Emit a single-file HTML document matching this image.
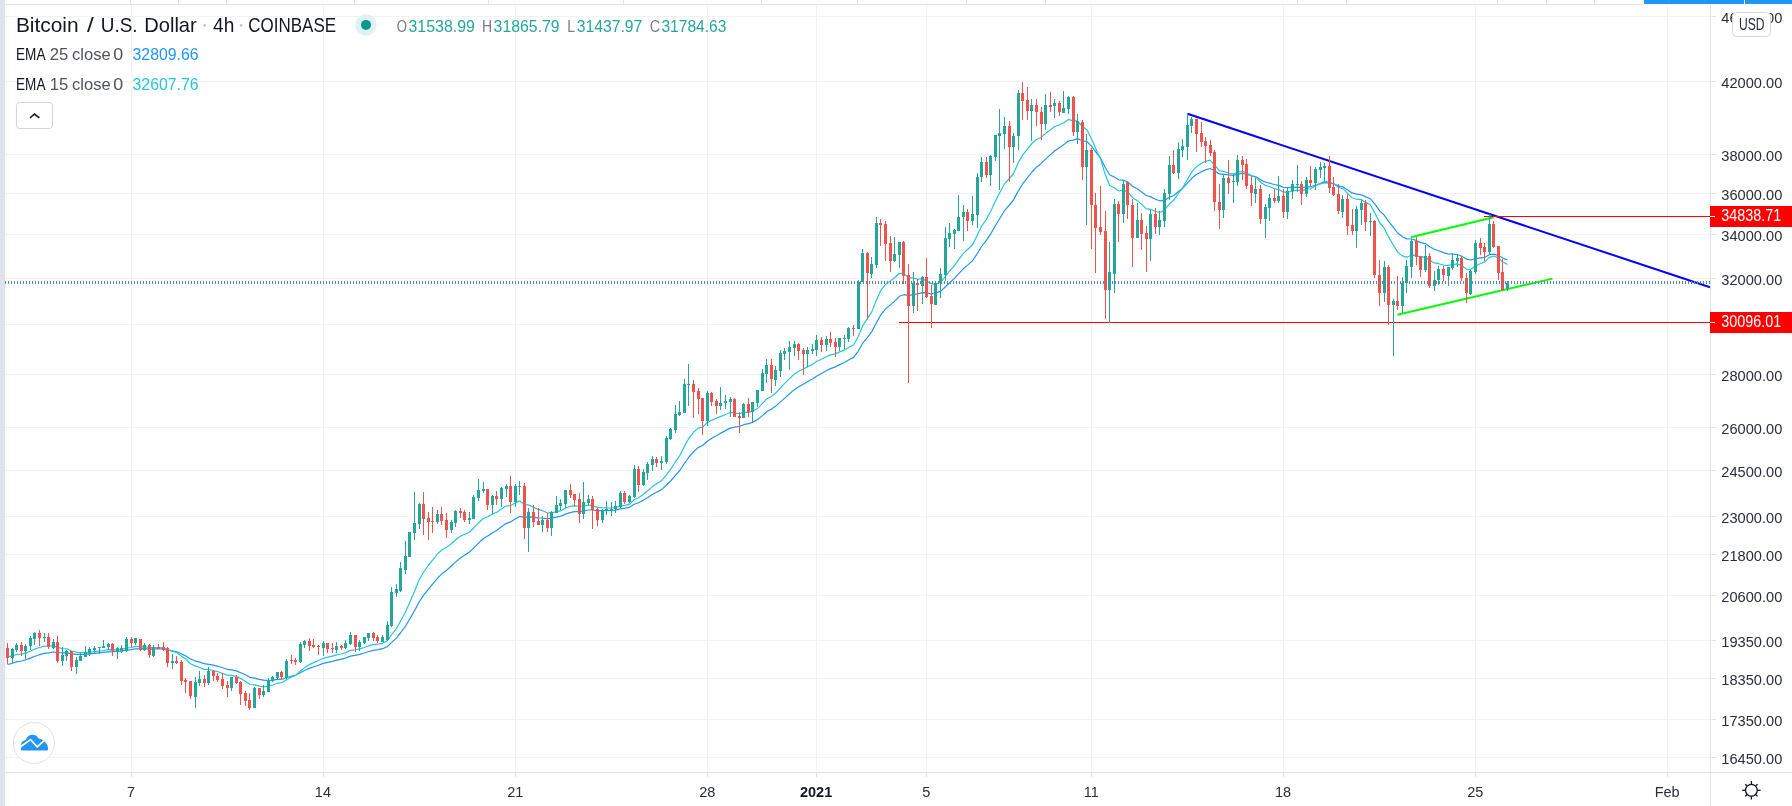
<!DOCTYPE html>
<html><head><meta charset="utf-8">
<style>
html,body{margin:0;padding:0;width:1792px;height:806px;overflow:hidden;background:#fff;}
svg{position:absolute;left:0;top:0;display:block}
</style></head>
<body>
<div style="will-change:transform;position:absolute;left:0;top:0;width:1792px;height:806px">
<svg width="1792" height="806" viewBox="0 0 1792 806">
<rect x="0" y="0" width="1792" height="806" fill="#ffffff"/>
<g shape-rendering="crispEdges" fill="#f1f3f3">
<rect x="5" y="16" width="1705" height="1"/>
<rect x="5" y="81" width="1705" height="1"/>
<rect x="5" y="154" width="1705" height="1"/>
<rect x="5" y="193" width="1705" height="1"/>
<rect x="5" y="234" width="1705" height="1"/>
<rect x="5" y="278" width="1705" height="1"/>
<rect x="5" y="324" width="1705" height="1"/>
<rect x="5" y="374" width="1705" height="1"/>
<rect x="5" y="427" width="1705" height="1"/>
<rect x="5" y="470" width="1705" height="1"/>
<rect x="5" y="516" width="1705" height="1"/>
<rect x="5" y="554" width="1705" height="1"/>
<rect x="5" y="595" width="1705" height="1"/>
<rect x="5" y="640" width="1705" height="1"/>
<rect x="5" y="678" width="1705" height="1"/>
<rect x="5" y="719" width="1705" height="1"/>
<rect x="5" y="757" width="1705" height="1"/>
<rect x="131" y="5" width="1" height="767"/>
<rect x="323" y="5" width="1" height="767"/>
<rect x="515" y="5" width="1" height="767"/>
<rect x="707" y="5" width="1" height="767"/>
<rect x="816" y="5" width="1" height="767"/>
<rect x="926" y="5" width="1" height="767"/>
<rect x="1091" y="5" width="1" height="767"/>
<rect x="1283" y="5" width="1" height="767"/>
<rect x="1475" y="5" width="1" height="767"/>
<rect x="1667" y="5" width="1" height="767"/>
</g>
<line x1="1410.8" y1="237.2" x2="1493.7" y2="217.2" stroke="#00ff00" stroke-width="2" stroke-linecap="butt"/>
<line x1="1397.3" y1="314.7" x2="1552.5" y2="278.6" stroke="#00ff00" stroke-width="2" stroke-linecap="butt"/>
<line x1="1187.5" y1="113.8" x2="1710" y2="287.2" stroke="#0000ff" stroke-width="2" stroke-linecap="butt"/>
<line x1="899" y1="322.5" x2="1710" y2="322.5" stroke="#ff0000" stroke-width="1" shape-rendering="crispEdges"/>
<line x1="1484" y1="216.5" x2="1710" y2="216.5" stroke="#ff0000" stroke-width="1" shape-rendering="crispEdges"/>
<polyline points="7.5,664.5 12.1,663.3 16.7,661.9 21.3,661.0 25.8,659.8 30.4,658.1 35.0,656.2 39.6,654.7 44.1,653.4 48.7,652.8 53.3,652.0 57.9,652.7 62.4,652.9 67.0,652.7 71.6,653.8 76.1,654.3 80.7,654.4 85.3,654.3 89.9,653.9 94.4,653.4 99.0,652.9 103.6,652.4 108.2,651.8 112.7,651.7 117.3,651.4 121.9,651.2 126.4,650.2 131.0,649.7 135.6,648.8 140.2,648.9 144.7,648.6 149.3,649.1 153.9,648.9 158.5,648.9 163.0,648.9 167.6,650.0 172.2,650.8 176.8,651.8 181.3,653.9 185.9,656.0 190.5,659.0 195.0,660.8 199.6,662.1 204.2,663.7 208.8,664.3 213.3,665.2 217.9,666.3 222.5,667.8 227.1,669.3 231.6,669.9 236.2,670.9 240.8,672.7 245.3,674.8 249.9,677.3 254.5,678.1 259.1,679.3 263.6,680.2 268.2,680.3 272.8,680.1 277.4,679.4 281.9,679.2 286.5,677.8 291.1,676.4 295.6,675.3 300.2,672.8 304.8,670.3 309.4,668.4 313.9,666.7 318.5,665.2 323.1,663.4 327.7,662.3 332.2,661.3 336.8,660.1 341.4,659.2 346.0,657.9 350.5,656.1 355.1,655.4 359.7,654.3 364.2,653.0 368.8,651.5 373.4,650.4 378.0,649.7 382.5,648.7 387.1,646.8 391.7,642.4 396.3,638.1 400.8,632.5 405.4,626.3 410.0,618.6 414.5,610.8 419.1,602.0 423.7,595.2 428.3,589.3 432.8,583.9 437.4,578.3 442.0,573.7 446.6,570.2 451.1,566.3 455.7,561.9 460.3,558.0 464.9,554.9 469.4,552.1 474.0,547.7 478.6,543.1 483.1,538.7 487.7,536.1 492.3,532.9 496.9,530.2 501.4,526.8 506.0,523.6 510.6,521.9 515.2,519.0 519.7,516.4 524.3,517.3 528.9,516.9 533.4,517.2 538.0,517.8 542.6,518.0 547.2,518.8 551.7,518.2 556.3,517.2 560.9,516.1 565.5,514.1 570.0,512.6 574.6,511.6 579.2,511.7 583.7,511.0 588.3,510.0 592.9,510.0 597.5,510.8 602.0,510.7 606.6,510.6 611.2,510.4 615.8,510.1 620.3,508.8 624.9,508.2 629.5,507.3 634.1,504.3 638.6,502.8 643.2,500.3 647.8,497.5 652.3,494.5 656.9,492.0 661.5,489.6 666.1,485.5 670.6,481.0 675.2,475.6 679.8,470.5 684.4,463.5 688.9,457.0 693.5,451.8 698.1,447.6 702.6,445.5 707.2,441.3 711.8,438.2 716.4,435.7 720.9,433.1 725.5,430.6 730.1,428.1 734.7,427.2 739.2,426.5 743.8,424.7 748.4,423.7 752.9,422.1 757.5,419.6 762.1,415.9 766.7,411.8 771.2,409.2 775.8,406.1 780.4,401.9 785.0,397.9 789.5,393.8 794.1,389.9 798.7,386.8 803.3,384.2 807.8,381.5 812.4,379.0 817.0,375.9 821.5,373.4 826.1,370.7 830.7,368.6 835.3,366.9 839.8,364.6 844.4,362.5 849.0,359.8 853.6,357.4 858.1,351.3 862.7,343.2 867.3,337.6 871.8,331.6 876.4,322.7 881.0,314.6 885.6,308.9 890.1,305.1 894.7,301.1 899.3,296.3 903.9,294.7 908.4,295.6 913.0,294.6 917.6,293.9 922.2,292.6 926.7,292.9 931.3,293.8 935.9,292.9 940.4,291.4 945.0,287.2 949.6,282.8 954.2,278.6 958.7,273.7 963.3,268.8 967.9,264.9 972.5,260.9 977.0,254.0 981.6,246.5 986.2,240.7 990.7,233.9 995.3,225.8 999.9,218.2 1004.5,210.7 1009.0,205.5 1013.6,199.9 1018.2,191.1 1022.8,183.7 1027.3,177.8 1031.9,172.0 1036.5,167.2 1041.0,163.7 1045.6,159.1 1050.2,154.9 1054.8,150.8 1059.3,147.7 1063.9,144.6 1068.5,140.8 1073.1,140.1 1077.6,138.6 1082.2,140.8 1086.8,141.5 1091.4,146.2 1095.9,152.1 1100.5,157.9 1105.1,167.3 1109.6,174.8 1114.2,177.0 1118.8,179.8 1123.4,180.1 1127.9,182.0 1132.5,186.2 1137.1,188.7 1141.7,192.1 1146.2,195.5 1150.8,196.9 1155.4,199.2 1159.9,200.8 1164.5,200.2 1169.1,197.4 1173.7,195.5 1178.2,191.8 1182.8,188.2 1187.4,183.2 1192.0,178.0 1196.5,174.5 1201.1,171.9 1205.7,169.8 1210.2,168.5 1214.8,171.1 1219.4,173.9 1224.0,174.3 1228.5,174.9 1233.1,175.4 1237.7,174.2 1242.3,173.4 1246.8,174.4 1251.4,175.8 1256.0,176.8 1260.6,179.9 1265.1,182.0 1269.7,183.2 1274.3,184.5 1278.8,185.4 1283.4,187.4 1288.0,187.7 1292.6,187.4 1297.1,187.1 1301.7,187.6 1306.3,187.1 1310.9,186.7 1315.4,185.3 1320.0,183.9 1324.6,182.6 1329.1,182.9 1333.7,183.9 1338.3,185.9 1342.9,186.9 1347.4,189.8 1352.0,192.9 1356.6,194.2 1361.2,194.8 1365.7,196.9 1370.3,198.7 1374.9,204.2 1379.5,210.7 1384.0,214.9 1388.6,221.4 1393.2,227.2 1397.7,233.0 1402.3,236.7 1406.9,238.9 1411.5,239.0 1416.0,240.4 1420.6,242.6 1425.2,243.6 1429.8,246.7 1434.3,249.3 1438.9,250.8 1443.5,252.6 1448.0,253.8 1452.6,254.2 1457.2,254.5 1461.8,256.3 1466.3,259.1 1470.9,260.0 1475.5,258.7 1480.1,257.8 1484.6,257.4 1489.2,254.7 1493.8,254.2 1498.3,255.5 1502.9,258.1 1507.5,260.0" fill="none" stroke="#2196f3" stroke-width="1.2" stroke-linejoin="round"/>
<polyline points="7.5,656.9 12.1,655.9 16.7,654.5 21.3,654.1 25.8,653.1 30.4,651.2 35.0,648.8 39.6,647.5 44.1,646.2 48.7,646.2 53.3,645.7 57.9,647.6 62.4,648.5 67.0,648.8 71.6,651.0 76.1,652.2 80.7,652.6 85.3,652.6 89.9,652.2 94.4,651.7 99.0,651.1 103.6,650.5 108.2,649.7 112.7,649.8 117.3,649.6 121.9,649.4 126.4,648.1 131.0,647.5 135.6,646.3 140.2,646.8 144.7,646.6 149.3,647.6 153.9,647.5 158.5,647.6 163.0,647.9 167.6,649.7 172.2,651.1 176.8,652.6 181.3,656.1 185.9,659.2 190.5,663.7 195.0,665.9 199.6,667.5 204.2,669.4 208.8,669.6 213.3,670.5 217.9,671.7 222.5,673.4 227.1,675.2 231.6,675.4 236.2,676.4 240.8,678.6 245.3,681.3 249.9,684.5 254.5,684.9 259.1,686.2 263.6,686.8 268.2,686.1 272.8,685.0 277.4,683.3 281.9,682.5 286.5,679.7 291.1,677.3 295.6,675.3 300.2,671.3 304.8,667.4 309.4,664.6 313.9,662.4 318.5,660.5 323.1,658.3 327.7,657.1 332.2,656.1 336.8,654.9 341.4,654.0 346.0,652.6 350.5,650.3 355.1,649.9 359.7,648.9 364.2,647.5 368.8,645.7 373.4,644.7 378.0,644.2 382.5,643.3 387.1,640.9 391.7,634.6 396.3,628.7 400.8,620.8 405.4,612.3 410.0,601.8 414.5,591.5 419.1,580.0 423.7,572.0 428.3,565.5 432.8,559.9 437.4,554.0 442.0,549.8 446.6,547.2 451.1,544.0 455.7,539.7 460.3,536.3 464.9,534.2 469.4,532.2 474.0,527.7 478.6,522.8 483.1,518.5 487.7,516.8 492.3,514.1 496.9,512.2 501.4,509.1 506.0,506.1 510.6,505.5 515.2,503.1 519.7,500.9 524.3,504.2 528.9,505.1 533.4,507.2 538.0,509.4 542.6,510.7 547.2,512.8 551.7,512.7 556.3,511.8 560.9,510.7 565.5,508.0 570.0,506.4 574.6,505.6 579.2,506.5 583.7,506.0 588.3,505.1 592.9,505.7 597.5,507.4 602.0,507.7 606.6,507.9 611.2,508.0 615.8,507.7 620.3,505.9 624.9,505.4 629.5,504.2 634.1,499.7 638.6,497.8 643.2,494.5 647.8,490.7 652.3,486.6 656.9,483.6 661.5,480.8 666.1,475.3 670.6,469.4 675.2,462.2 679.8,455.7 684.4,446.4 688.9,438.3 693.5,432.3 698.1,428.1 702.6,427.1 707.2,422.7 711.8,420.1 716.4,418.3 720.9,416.4 725.5,414.5 730.1,412.5 734.7,413.0 739.2,413.6 743.8,412.4 748.4,412.3 752.9,411.1 757.5,408.4 762.1,403.9 766.7,399.0 771.2,396.4 775.8,393.0 780.4,387.9 785.0,383.2 789.5,378.6 794.1,374.2 798.7,371.2 803.3,369.0 807.8,366.6 812.4,364.4 817.0,361.3 821.5,359.2 826.1,356.7 830.7,354.9 835.3,353.9 839.8,351.9 844.4,350.1 849.0,347.3 853.6,345.0 858.1,336.8 862.7,325.8 867.3,318.9 871.8,311.9 876.4,300.1 881.0,290.2 885.6,284.3 890.1,281.3 894.7,277.8 899.3,273.3 903.9,273.6 908.4,277.6 913.0,278.2 917.6,279.1 922.2,278.8 926.7,281.1 931.3,283.9 935.9,283.8 940.4,282.5 945.0,276.8 949.6,271.2 954.2,265.9 958.7,259.6 963.3,253.4 967.9,249.2 972.5,244.7 977.0,235.8 981.6,226.2 986.2,219.6 990.7,211.3 995.3,201.3 999.9,192.5 1004.5,183.8 1009.0,179.0 1013.6,173.5 1018.2,162.9 1022.8,154.8 1027.3,149.2 1031.9,143.5 1036.5,139.5 1041.0,137.5 1045.6,133.4 1050.2,130.0 1054.8,126.5 1059.3,124.7 1063.9,122.7 1068.5,119.4 1073.1,120.9 1077.6,120.9 1082.2,126.5 1086.8,129.4 1091.4,138.4 1095.9,149.0 1100.5,158.8 1105.1,174.0 1109.6,185.5 1114.2,187.8 1118.8,191.0 1123.4,190.1 1127.9,192.0 1132.5,197.6 1137.1,200.4 1141.7,204.4 1146.2,208.6 1150.8,209.3 1155.4,211.5 1159.9,212.5 1164.5,210.1 1169.1,204.3 1173.7,200.3 1178.2,193.7 1182.8,187.6 1187.4,179.5 1192.0,171.6 1196.5,166.7 1201.1,163.5 1205.7,161.3 1210.2,160.2 1214.8,165.3 1219.4,170.7 1224.0,171.6 1228.5,173.0 1233.1,174.0 1237.7,172.2 1242.3,171.3 1246.8,173.1 1251.4,175.5 1256.0,177.2 1260.6,182.2 1265.1,185.3 1269.7,186.8 1274.3,188.6 1278.8,189.5 1283.4,192.2 1288.0,192.1 1292.6,191.1 1297.1,190.2 1301.7,190.6 1306.3,189.3 1310.9,188.5 1315.4,186.0 1320.0,183.6 1324.6,181.4 1329.1,182.2 1333.7,183.8 1338.3,187.2 1342.9,188.6 1347.4,193.2 1352.0,197.8 1356.6,199.2 1361.2,199.7 1365.7,202.4 1370.3,204.7 1374.9,213.1 1379.5,222.5 1384.0,227.9 1388.6,237.1 1393.2,244.8 1397.7,252.1 1402.3,255.9 1406.9,257.2 1411.5,255.1 1416.0,255.3 1420.6,257.1 1425.2,256.9 1429.8,260.4 1434.3,262.9 1438.9,263.7 1443.5,265.1 1448.0,265.4 1452.6,264.7 1457.2,263.9 1461.8,265.7 1466.3,269.1 1470.9,269.3 1475.5,266.0 1480.1,263.7 1484.6,262.1 1489.2,257.3 1493.8,256.0 1498.3,258.0 1502.9,261.9 1507.5,264.5" fill="none" stroke="#26c6da" stroke-width="1.2" stroke-linejoin="round"/>
<g shape-rendering="crispEdges">
<rect x="7" y="643.0" width="1" height="20.8" fill="#ef5350"/>
<rect x="6" y="647.9" width="3" height="9.8" fill="#ef5350"/>
<rect x="12" y="647.9" width="1" height="15.0" fill="#26a69a"/>
<rect x="11" y="649.1" width="3" height="8.7" fill="#26a69a"/>
<rect x="16" y="643.0" width="1" height="8.9" fill="#26a69a"/>
<rect x="15" y="644.9" width="3" height="4.9" fill="#26a69a"/>
<rect x="21" y="642.1" width="1" height="13.5" fill="#ef5350"/>
<rect x="20" y="645.2" width="3" height="5.6" fill="#ef5350"/>
<rect x="25" y="644.0" width="1" height="14.8" fill="#26a69a"/>
<rect x="24" y="646.0" width="3" height="4.8" fill="#26a69a"/>
<rect x="30" y="635.9" width="1" height="14.1" fill="#26a69a"/>
<rect x="29" y="638.0" width="3" height="7.6" fill="#26a69a"/>
<rect x="34" y="632.0" width="1" height="12.8" fill="#26a69a"/>
<rect x="33" y="632.7" width="3" height="6.1" fill="#26a69a"/>
<rect x="39" y="630.0" width="1" height="15.6" fill="#ef5350"/>
<rect x="38" y="633.0" width="3" height="4.9" fill="#ef5350"/>
<rect x="44" y="633.0" width="1" height="8.7" fill="#26a69a"/>
<rect x="43" y="637.1" width="3" height="1.0" fill="#26a69a"/>
<rect x="48" y="633.0" width="1" height="15.8" fill="#ef5350"/>
<rect x="47" y="637.1" width="3" height="9.4" fill="#ef5350"/>
<rect x="53" y="639.1" width="1" height="9.6" fill="#26a69a"/>
<rect x="52" y="642.1" width="3" height="5.4" fill="#26a69a"/>
<rect x="57" y="635.9" width="1" height="26.8" fill="#ef5350"/>
<rect x="56" y="642.1" width="3" height="18.7" fill="#ef5350"/>
<rect x="62" y="647.1" width="1" height="18.8" fill="#26a69a"/>
<rect x="61" y="655.2" width="3" height="5.6" fill="#26a69a"/>
<rect x="66" y="649.5" width="1" height="11.3" fill="#26a69a"/>
<rect x="65" y="650.8" width="3" height="5.2" fill="#26a69a"/>
<rect x="71" y="650.8" width="1" height="20.0" fill="#ef5350"/>
<rect x="70" y="651.2" width="3" height="15.6" fill="#ef5350"/>
<rect x="76" y="657.3" width="1" height="16.5" fill="#26a69a"/>
<rect x="75" y="660.2" width="3" height="6.7" fill="#26a69a"/>
<rect x="80" y="653.2" width="1" height="7.6" fill="#26a69a"/>
<rect x="79" y="656.0" width="3" height="4.8" fill="#26a69a"/>
<rect x="85" y="645.9" width="1" height="11.0" fill="#26a69a"/>
<rect x="84" y="652.3" width="3" height="4.6" fill="#26a69a"/>
<rect x="89" y="647.1" width="1" height="8.7" fill="#26a69a"/>
<rect x="88" y="649.1" width="3" height="4.8" fill="#26a69a"/>
<rect x="94" y="646.0" width="1" height="6.9" fill="#26a69a"/>
<rect x="93" y="648.2" width="3" height="1.3" fill="#26a69a"/>
<rect x="99" y="647.2" width="1" height="6.3" fill="#26a69a"/>
<rect x="98" y="647.2" width="3" height="1.0" fill="#26a69a"/>
<rect x="103" y="640.0" width="1" height="8.2" fill="#26a69a"/>
<rect x="102" y="646.3" width="3" height="1.9" fill="#26a69a"/>
<rect x="108" y="643.0" width="1" height="6.5" fill="#26a69a"/>
<rect x="107" y="644.0" width="3" height="2.9" fill="#26a69a"/>
<rect x="112" y="643.0" width="1" height="12.8" fill="#ef5350"/>
<rect x="111" y="643.9" width="3" height="6.9" fill="#ef5350"/>
<rect x="117" y="646.9" width="1" height="11.9" fill="#26a69a"/>
<rect x="116" y="648.2" width="3" height="3.3" fill="#26a69a"/>
<rect x="121" y="645.1" width="1" height="7.6" fill="#26a69a"/>
<rect x="120" y="647.9" width="3" height="3.2" fill="#26a69a"/>
<rect x="126" y="636.9" width="1" height="15.0" fill="#26a69a"/>
<rect x="125" y="639.0" width="3" height="12.1" fill="#26a69a"/>
<rect x="131" y="636.9" width="1" height="10.5" fill="#ef5350"/>
<rect x="130" y="639.0" width="3" height="4.2" fill="#ef5350"/>
<rect x="135" y="637.9" width="1" height="6.9" fill="#26a69a"/>
<rect x="134" y="638.4" width="3" height="4.2" fill="#26a69a"/>
<rect x="140" y="639.0" width="1" height="11.8" fill="#ef5350"/>
<rect x="139" y="639.2" width="3" height="10.9" fill="#ef5350"/>
<rect x="144" y="643.2" width="1" height="7.6" fill="#26a69a"/>
<rect x="143" y="645.1" width="3" height="5.0" fill="#26a69a"/>
<rect x="149" y="643.7" width="1" height="14.2" fill="#ef5350"/>
<rect x="148" y="644.8" width="3" height="10.0" fill="#ef5350"/>
<rect x="153" y="645.1" width="1" height="11.8" fill="#26a69a"/>
<rect x="152" y="646.9" width="3" height="9.0" fill="#26a69a"/>
<rect x="158" y="643.7" width="1" height="5.3" fill="#ef5350"/>
<rect x="157" y="646.9" width="3" height="1.6" fill="#ef5350"/>
<rect x="163" y="642.1" width="1" height="8.6" fill="#ef5350"/>
<rect x="162" y="646.9" width="3" height="2.6" fill="#ef5350"/>
<rect x="167" y="646.9" width="1" height="20.0" fill="#ef5350"/>
<rect x="166" y="647.9" width="3" height="14.8" fill="#ef5350"/>
<rect x="172" y="654.0" width="1" height="14.8" fill="#26a69a"/>
<rect x="171" y="661.1" width="3" height="1.6" fill="#26a69a"/>
<rect x="176" y="655.8" width="1" height="7.9" fill="#ef5350"/>
<rect x="175" y="661.1" width="3" height="2.1" fill="#ef5350"/>
<rect x="181" y="660.0" width="1" height="24.8" fill="#ef5350"/>
<rect x="180" y="661.6" width="3" height="19.0" fill="#ef5350"/>
<rect x="185" y="678.0" width="1" height="15.0" fill="#ef5350"/>
<rect x="184" y="680.1" width="3" height="1.6" fill="#ef5350"/>
<rect x="190" y="681.1" width="1" height="17.6" fill="#ef5350"/>
<rect x="189" y="681.1" width="3" height="14.8" fill="#ef5350"/>
<rect x="195" y="677.1" width="1" height="30.7" fill="#26a69a"/>
<rect x="194" y="681.9" width="3" height="15.1" fill="#26a69a"/>
<rect x="199" y="670.9" width="1" height="15.0" fill="#26a69a"/>
<rect x="198" y="678.7" width="3" height="4.0" fill="#26a69a"/>
<rect x="204" y="675.0" width="1" height="11.9" fill="#ef5350"/>
<rect x="203" y="679.0" width="3" height="3.7" fill="#ef5350"/>
<rect x="208" y="667.1" width="1" height="17.7" fill="#26a69a"/>
<rect x="207" y="671.1" width="3" height="11.6" fill="#26a69a"/>
<rect x="213" y="670.1" width="1" height="10.5" fill="#ef5350"/>
<rect x="212" y="670.6" width="3" height="5.8" fill="#ef5350"/>
<rect x="217" y="672.7" width="1" height="9.0" fill="#ef5350"/>
<rect x="216" y="675.9" width="3" height="4.2" fill="#ef5350"/>
<rect x="222" y="673.2" width="1" height="15.6" fill="#ef5350"/>
<rect x="221" y="679.0" width="3" height="6.9" fill="#ef5350"/>
<rect x="227" y="681.1" width="1" height="15.5" fill="#ef5350"/>
<rect x="226" y="684.8" width="3" height="3.0" fill="#ef5350"/>
<rect x="231" y="676.9" width="1" height="13.9" fill="#26a69a"/>
<rect x="230" y="677.2" width="3" height="10.5" fill="#26a69a"/>
<rect x="236" y="675.1" width="1" height="8.6" fill="#ef5350"/>
<rect x="235" y="676.9" width="3" height="6.3" fill="#ef5350"/>
<rect x="240" y="681.1" width="1" height="23.7" fill="#ef5350"/>
<rect x="239" y="681.7" width="3" height="12.1" fill="#ef5350"/>
<rect x="245" y="691.1" width="1" height="14.4" fill="#ef5350"/>
<rect x="244" y="693.0" width="3" height="7.6" fill="#ef5350"/>
<rect x="249" y="693.1" width="1" height="16.7" fill="#ef5350"/>
<rect x="248" y="700.1" width="3" height="7.7" fill="#ef5350"/>
<rect x="254" y="687.2" width="1" height="21.2" fill="#26a69a"/>
<rect x="253" y="687.8" width="3" height="20.0" fill="#26a69a"/>
<rect x="259" y="687.8" width="1" height="11.0" fill="#ef5350"/>
<rect x="258" y="688.1" width="3" height="6.7" fill="#ef5350"/>
<rect x="263" y="684.8" width="1" height="12.0" fill="#26a69a"/>
<rect x="262" y="691.1" width="3" height="3.8" fill="#26a69a"/>
<rect x="268" y="678.0" width="1" height="13.7" fill="#26a69a"/>
<rect x="267" y="681.3" width="3" height="10.4" fill="#26a69a"/>
<rect x="272" y="676.2" width="1" height="6.2" fill="#26a69a"/>
<rect x="271" y="677.2" width="3" height="4.1" fill="#26a69a"/>
<rect x="277" y="671.9" width="1" height="7.7" fill="#26a69a"/>
<rect x="276" y="671.9" width="3" height="5.9" fill="#26a69a"/>
<rect x="281" y="671.3" width="1" height="8.2" fill="#ef5350"/>
<rect x="280" y="672.2" width="3" height="4.4" fill="#ef5350"/>
<rect x="286" y="658.9" width="1" height="19.8" fill="#26a69a"/>
<rect x="285" y="660.7" width="3" height="17.1" fill="#26a69a"/>
<rect x="291" y="655.0" width="1" height="8.8" fill="#ef5350"/>
<rect x="290" y="659.8" width="3" height="1.0" fill="#ef5350"/>
<rect x="295" y="657.9" width="1" height="6.8" fill="#ef5350"/>
<rect x="294" y="659.8" width="3" height="2.0" fill="#ef5350"/>
<rect x="300" y="641.8" width="1" height="21.2" fill="#26a69a"/>
<rect x="299" y="643.6" width="3" height="18.3" fill="#26a69a"/>
<rect x="304" y="640.0" width="1" height="7.9" fill="#26a69a"/>
<rect x="303" y="640.6" width="3" height="4.1" fill="#26a69a"/>
<rect x="309" y="637.9" width="1" height="13.0" fill="#ef5350"/>
<rect x="308" y="641.0" width="3" height="4.7" fill="#ef5350"/>
<rect x="313" y="638.9" width="1" height="8.8" fill="#ef5350"/>
<rect x="312" y="645.0" width="3" height="1.9" fill="#ef5350"/>
<rect x="318" y="645.0" width="1" height="10.0" fill="#ef5350"/>
<rect x="317" y="645.7" width="3" height="1.6" fill="#ef5350"/>
<rect x="323" y="641.0" width="1" height="15.0" fill="#26a69a"/>
<rect x="322" y="643.0" width="3" height="4.7" fill="#26a69a"/>
<rect x="327" y="643.0" width="1" height="10.0" fill="#ef5350"/>
<rect x="326" y="643.0" width="3" height="5.9" fill="#ef5350"/>
<rect x="332" y="643.0" width="1" height="10.0" fill="#ef5350"/>
<rect x="331" y="647.9" width="3" height="1.5" fill="#ef5350"/>
<rect x="336" y="642.0" width="1" height="11.0" fill="#26a69a"/>
<rect x="335" y="645.9" width="3" height="4.1" fill="#26a69a"/>
<rect x="341" y="645.1" width="1" height="4.6" fill="#ef5350"/>
<rect x="340" y="646.2" width="3" height="1.5" fill="#ef5350"/>
<rect x="345" y="640.0" width="1" height="8.8" fill="#26a69a"/>
<rect x="344" y="643.0" width="3" height="4.7" fill="#26a69a"/>
<rect x="350" y="631.8" width="1" height="13.0" fill="#26a69a"/>
<rect x="349" y="634.7" width="3" height="9.4" fill="#26a69a"/>
<rect x="355" y="634.7" width="1" height="17.1" fill="#ef5350"/>
<rect x="354" y="635.1" width="3" height="12.0" fill="#ef5350"/>
<rect x="359" y="640.0" width="1" height="10.8" fill="#26a69a"/>
<rect x="358" y="641.8" width="3" height="5.3" fill="#26a69a"/>
<rect x="364" y="637.1" width="1" height="7.1" fill="#26a69a"/>
<rect x="363" y="637.4" width="3" height="5.5" fill="#26a69a"/>
<rect x="368" y="633.0" width="1" height="8.0" fill="#26a69a"/>
<rect x="367" y="633.2" width="3" height="5.1" fill="#26a69a"/>
<rect x="373" y="631.8" width="1" height="9.2" fill="#ef5350"/>
<rect x="372" y="633.2" width="3" height="4.5" fill="#ef5350"/>
<rect x="377" y="635.1" width="1" height="7.9" fill="#ef5350"/>
<rect x="376" y="637.1" width="3" height="3.9" fill="#ef5350"/>
<rect x="382" y="635.2" width="1" height="7.1" fill="#26a69a"/>
<rect x="381" y="637.0" width="3" height="4.5" fill="#26a69a"/>
<rect x="387" y="620.7" width="1" height="20.1" fill="#26a69a"/>
<rect x="386" y="624.5" width="3" height="15.2" fill="#26a69a"/>
<rect x="391" y="586.5" width="1" height="40.8" fill="#26a69a"/>
<rect x="390" y="591.7" width="3" height="34.6" fill="#26a69a"/>
<rect x="396" y="583.8" width="1" height="12.9" fill="#26a69a"/>
<rect x="395" y="588.8" width="3" height="4.0" fill="#26a69a"/>
<rect x="400" y="561.5" width="1" height="30.1" fill="#26a69a"/>
<rect x="399" y="568.2" width="3" height="22.3" fill="#26a69a"/>
<rect x="405" y="541.0" width="1" height="32.8" fill="#26a69a"/>
<rect x="404" y="555.5" width="3" height="14.5" fill="#26a69a"/>
<rect x="409" y="532.1" width="1" height="24.6" fill="#26a69a"/>
<rect x="408" y="532.1" width="3" height="24.6" fill="#26a69a"/>
<rect x="414" y="491.9" width="1" height="47.6" fill="#26a69a"/>
<rect x="413" y="523.2" width="3" height="9.5" fill="#26a69a"/>
<rect x="419" y="503.2" width="1" height="25.3" fill="#26a69a"/>
<rect x="418" y="503.9" width="3" height="19.8" fill="#26a69a"/>
<rect x="423" y="491.9" width="1" height="42.6" fill="#ef5350"/>
<rect x="422" y="504.3" width="3" height="14.2" fill="#ef5350"/>
<rect x="428" y="512.0" width="1" height="27.6" fill="#ef5350"/>
<rect x="427" y="518.0" width="3" height="3.7" fill="#ef5350"/>
<rect x="432" y="507.1" width="1" height="25.6" fill="#ef5350"/>
<rect x="431" y="521.1" width="3" height="1.0" fill="#ef5350"/>
<rect x="437" y="510.1" width="1" height="13.5" fill="#26a69a"/>
<rect x="436" y="514.3" width="3" height="7.4" fill="#26a69a"/>
<rect x="441" y="507.1" width="1" height="17.5" fill="#ef5350"/>
<rect x="440" y="514.3" width="3" height="6.3" fill="#ef5350"/>
<rect x="446" y="513.0" width="1" height="24.7" fill="#ef5350"/>
<rect x="445" y="520.1" width="3" height="9.5" fill="#ef5350"/>
<rect x="451" y="520.3" width="1" height="12.4" fill="#26a69a"/>
<rect x="450" y="521.7" width="3" height="7.9" fill="#26a69a"/>
<rect x="455" y="510.1" width="1" height="16.6" fill="#26a69a"/>
<rect x="454" y="510.6" width="3" height="12.1" fill="#26a69a"/>
<rect x="460" y="508.0" width="1" height="9.7" fill="#ef5350"/>
<rect x="459" y="511.1" width="3" height="1.6" fill="#ef5350"/>
<rect x="464" y="510.1" width="1" height="11.6" fill="#ef5350"/>
<rect x="463" y="512.0" width="3" height="7.6" fill="#ef5350"/>
<rect x="469" y="512.0" width="1" height="11.6" fill="#26a69a"/>
<rect x="468" y="518.3" width="3" height="1.3" fill="#26a69a"/>
<rect x="473" y="495.1" width="1" height="23.6" fill="#26a69a"/>
<rect x="472" y="496.9" width="3" height="21.8" fill="#26a69a"/>
<rect x="478" y="479.0" width="1" height="21.8" fill="#26a69a"/>
<rect x="477" y="490.0" width="3" height="7.9" fill="#26a69a"/>
<rect x="483" y="481.9" width="1" height="10.8" fill="#26a69a"/>
<rect x="482" y="489.0" width="3" height="1.6" fill="#26a69a"/>
<rect x="487" y="489.0" width="1" height="20.9" fill="#ef5350"/>
<rect x="486" y="489.0" width="3" height="15.8" fill="#ef5350"/>
<rect x="492" y="495.1" width="1" height="19.0" fill="#26a69a"/>
<rect x="491" y="495.8" width="3" height="9.0" fill="#26a69a"/>
<rect x="496" y="491.1" width="1" height="13.7" fill="#ef5350"/>
<rect x="495" y="496.4" width="3" height="2.1" fill="#ef5350"/>
<rect x="501" y="486.9" width="1" height="19.8" fill="#26a69a"/>
<rect x="500" y="487.7" width="3" height="10.8" fill="#26a69a"/>
<rect x="506" y="483.9" width="1" height="13.0" fill="#26a69a"/>
<rect x="505" y="485.8" width="3" height="3.0" fill="#26a69a"/>
<rect x="510" y="476.1" width="1" height="36.6" fill="#ef5350"/>
<rect x="509" y="486.0" width="3" height="15.6" fill="#ef5350"/>
<rect x="515" y="483.9" width="1" height="22.8" fill="#26a69a"/>
<rect x="514" y="485.8" width="3" height="15.8" fill="#26a69a"/>
<rect x="519" y="481.1" width="1" height="13.7" fill="#26a69a"/>
<rect x="518" y="485.8" width="3" height="1.0" fill="#26a69a"/>
<rect x="524" y="483.2" width="1" height="55.6" fill="#ef5350"/>
<rect x="523" y="485.8" width="3" height="42.0" fill="#ef5350"/>
<rect x="528" y="508.0" width="1" height="43.7" fill="#26a69a"/>
<rect x="527" y="512.0" width="3" height="15.8" fill="#26a69a"/>
<rect x="533" y="505.0" width="1" height="21.6" fill="#ef5350"/>
<rect x="532" y="512.0" width="3" height="9.7" fill="#ef5350"/>
<rect x="538" y="508.0" width="1" height="17.4" fill="#ef5350"/>
<rect x="537" y="521.1" width="3" height="3.9" fill="#ef5350"/>
<rect x="542" y="516.2" width="1" height="15.5" fill="#26a69a"/>
<rect x="541" y="520.1" width="3" height="4.7" fill="#26a69a"/>
<rect x="547" y="513.0" width="1" height="18.7" fill="#ef5350"/>
<rect x="546" y="520.1" width="3" height="7.7" fill="#ef5350"/>
<rect x="551" y="511.4" width="1" height="24.2" fill="#26a69a"/>
<rect x="550" y="511.9" width="3" height="15.8" fill="#26a69a"/>
<rect x="556" y="495.9" width="1" height="17.3" fill="#26a69a"/>
<rect x="555" y="505.1" width="3" height="7.7" fill="#26a69a"/>
<rect x="560" y="499.1" width="1" height="10.8" fill="#26a69a"/>
<rect x="559" y="503.0" width="3" height="2.6" fill="#26a69a"/>
<rect x="565" y="490.0" width="1" height="17.7" fill="#26a69a"/>
<rect x="564" y="490.0" width="3" height="13.7" fill="#26a69a"/>
<rect x="570" y="484.0" width="1" height="14.4" fill="#ef5350"/>
<rect x="569" y="490.3" width="3" height="4.5" fill="#ef5350"/>
<rect x="574" y="494.0" width="1" height="12.7" fill="#ef5350"/>
<rect x="573" y="494.0" width="3" height="5.8" fill="#ef5350"/>
<rect x="579" y="493.0" width="1" height="29.7" fill="#ef5350"/>
<rect x="578" y="499.1" width="3" height="14.4" fill="#ef5350"/>
<rect x="583" y="482.2" width="1" height="36.6" fill="#26a69a"/>
<rect x="582" y="501.9" width="3" height="11.6" fill="#26a69a"/>
<rect x="588" y="495.1" width="1" height="10.2" fill="#26a69a"/>
<rect x="587" y="499.1" width="3" height="3.9" fill="#26a69a"/>
<rect x="592" y="495.9" width="1" height="32.9" fill="#ef5350"/>
<rect x="591" y="499.1" width="3" height="10.8" fill="#ef5350"/>
<rect x="597" y="508.2" width="1" height="17.6" fill="#ef5350"/>
<rect x="596" y="508.8" width="3" height="10.8" fill="#ef5350"/>
<rect x="602" y="509.3" width="1" height="13.4" fill="#26a69a"/>
<rect x="601" y="509.8" width="3" height="9.7" fill="#26a69a"/>
<rect x="606" y="500.9" width="1" height="14.0" fill="#26a69a"/>
<rect x="605" y="509.3" width="3" height="1.1" fill="#26a69a"/>
<rect x="611" y="501.9" width="1" height="13.9" fill="#26a69a"/>
<rect x="610" y="508.6" width="3" height="1.1" fill="#26a69a"/>
<rect x="615" y="500.9" width="1" height="11.9" fill="#26a69a"/>
<rect x="614" y="506.1" width="3" height="2.4" fill="#26a69a"/>
<rect x="620" y="491.1" width="1" height="16.7" fill="#26a69a"/>
<rect x="619" y="493.2" width="3" height="13.5" fill="#26a69a"/>
<rect x="624" y="491.1" width="1" height="12.7" fill="#ef5350"/>
<rect x="623" y="493.2" width="3" height="8.7" fill="#ef5350"/>
<rect x="629" y="495.1" width="1" height="7.9" fill="#26a69a"/>
<rect x="628" y="496.1" width="3" height="5.8" fill="#26a69a"/>
<rect x="634" y="465.0" width="1" height="32.7" fill="#26a69a"/>
<rect x="633" y="469.0" width="3" height="27.9" fill="#26a69a"/>
<rect x="638" y="466.1" width="1" height="25.8" fill="#ef5350"/>
<rect x="637" y="469.0" width="3" height="15.7" fill="#ef5350"/>
<rect x="643" y="469.0" width="1" height="16.8" fill="#26a69a"/>
<rect x="642" y="471.9" width="3" height="13.4" fill="#26a69a"/>
<rect x="647" y="462.2" width="1" height="17.6" fill="#26a69a"/>
<rect x="646" y="464.0" width="3" height="8.7" fill="#26a69a"/>
<rect x="652" y="456.1" width="1" height="14.8" fill="#26a69a"/>
<rect x="651" y="459.2" width="3" height="5.5" fill="#26a69a"/>
<rect x="656" y="457.1" width="1" height="9.7" fill="#ef5350"/>
<rect x="655" y="459.2" width="3" height="3.7" fill="#ef5350"/>
<rect x="661" y="456.1" width="1" height="13.7" fill="#26a69a"/>
<rect x="660" y="461.3" width="3" height="1.3" fill="#26a69a"/>
<rect x="666" y="436.1" width="1" height="27.6" fill="#26a69a"/>
<rect x="665" y="438.0" width="3" height="23.6" fill="#26a69a"/>
<rect x="670" y="428.2" width="1" height="11.6" fill="#26a69a"/>
<rect x="669" y="428.9" width="3" height="10.2" fill="#26a69a"/>
<rect x="675" y="405.0" width="1" height="28.0" fill="#26a69a"/>
<rect x="674" y="414.2" width="3" height="15.7" fill="#26a69a"/>
<rect x="679" y="400.9" width="1" height="14.7" fill="#26a69a"/>
<rect x="678" y="411.8" width="3" height="2.7" fill="#26a69a"/>
<rect x="684" y="379.1" width="1" height="33.4" fill="#26a69a"/>
<rect x="683" y="384.2" width="3" height="28.4" fill="#26a69a"/>
<rect x="688" y="364.1" width="1" height="41.9" fill="#26a69a"/>
<rect x="687" y="384.2" width="3" height="1.0" fill="#26a69a"/>
<rect x="693" y="380.2" width="1" height="37.8" fill="#ef5350"/>
<rect x="692" y="384.2" width="3" height="7.6" fill="#ef5350"/>
<rect x="698" y="388.0" width="1" height="25.7" fill="#ef5350"/>
<rect x="697" y="391.1" width="3" height="7.8" fill="#ef5350"/>
<rect x="702" y="397.9" width="1" height="36.8" fill="#ef5350"/>
<rect x="701" y="398.2" width="3" height="22.5" fill="#ef5350"/>
<rect x="707" y="391.1" width="1" height="34.4" fill="#26a69a"/>
<rect x="706" y="392.7" width="3" height="28.7" fill="#26a69a"/>
<rect x="711" y="392.1" width="1" height="13.6" fill="#ef5350"/>
<rect x="710" y="392.7" width="3" height="8.9" fill="#ef5350"/>
<rect x="716" y="399.2" width="1" height="14.7" fill="#ef5350"/>
<rect x="715" y="400.7" width="3" height="5.5" fill="#ef5350"/>
<rect x="720" y="387.0" width="1" height="22.8" fill="#26a69a"/>
<rect x="719" y="403.3" width="3" height="2.2" fill="#26a69a"/>
<rect x="725" y="395.2" width="1" height="13.5" fill="#26a69a"/>
<rect x="724" y="400.9" width="3" height="2.5" fill="#26a69a"/>
<rect x="730" y="396.8" width="1" height="19.8" fill="#26a69a"/>
<rect x="729" y="399.2" width="3" height="2.5" fill="#26a69a"/>
<rect x="734" y="398.2" width="1" height="18.8" fill="#ef5350"/>
<rect x="733" y="398.9" width="3" height="17.7" fill="#ef5350"/>
<rect x="739" y="412.1" width="1" height="20.9" fill="#ef5350"/>
<rect x="738" y="415.9" width="3" height="1.6" fill="#ef5350"/>
<rect x="743" y="403.4" width="1" height="14.6" fill="#26a69a"/>
<rect x="742" y="403.7" width="3" height="13.9" fill="#26a69a"/>
<rect x="748" y="397.9" width="1" height="19.1" fill="#ef5350"/>
<rect x="747" y="403.9" width="3" height="8.3" fill="#ef5350"/>
<rect x="752" y="402.0" width="1" height="20.5" fill="#26a69a"/>
<rect x="751" y="402.3" width="3" height="9.6" fill="#26a69a"/>
<rect x="757" y="390.0" width="1" height="16.8" fill="#26a69a"/>
<rect x="756" y="390.3" width="3" height="12.7" fill="#26a69a"/>
<rect x="762" y="369.3" width="1" height="21.8" fill="#26a69a"/>
<rect x="761" y="373.0" width="3" height="17.7" fill="#26a69a"/>
<rect x="766" y="359.0" width="1" height="23.5" fill="#26a69a"/>
<rect x="765" y="365.2" width="3" height="8.4" fill="#26a69a"/>
<rect x="771" y="359.0" width="1" height="33.7" fill="#ef5350"/>
<rect x="770" y="365.2" width="3" height="13.4" fill="#ef5350"/>
<rect x="775" y="365.9" width="1" height="19.7" fill="#26a69a"/>
<rect x="774" y="370.1" width="3" height="9.4" fill="#26a69a"/>
<rect x="780" y="350.0" width="1" height="26.8" fill="#26a69a"/>
<rect x="779" y="353.0" width="3" height="17.9" fill="#26a69a"/>
<rect x="784" y="348.0" width="1" height="11.7" fill="#26a69a"/>
<rect x="783" y="351.0" width="3" height="2.8" fill="#26a69a"/>
<rect x="789" y="341.1" width="1" height="28.6" fill="#26a69a"/>
<rect x="788" y="347.0" width="3" height="4.8" fill="#26a69a"/>
<rect x="794" y="341.1" width="1" height="14.7" fill="#26a69a"/>
<rect x="793" y="344.0" width="3" height="3.8" fill="#26a69a"/>
<rect x="798" y="343.3" width="1" height="16.4" fill="#ef5350"/>
<rect x="797" y="343.8" width="3" height="7.0" fill="#ef5350"/>
<rect x="803" y="348.3" width="1" height="26.3" fill="#ef5350"/>
<rect x="802" y="350.0" width="3" height="3.8" fill="#ef5350"/>
<rect x="807" y="347.0" width="1" height="19.7" fill="#26a69a"/>
<rect x="806" y="350.0" width="3" height="3.8" fill="#26a69a"/>
<rect x="812" y="344.0" width="1" height="9.7" fill="#26a69a"/>
<rect x="811" y="349.0" width="3" height="1.8" fill="#26a69a"/>
<rect x="816" y="334.9" width="1" height="20.9" fill="#26a69a"/>
<rect x="815" y="340.1" width="3" height="9.7" fill="#26a69a"/>
<rect x="821" y="337.1" width="1" height="14.7" fill="#ef5350"/>
<rect x="820" y="340.1" width="3" height="4.8" fill="#ef5350"/>
<rect x="826" y="336.1" width="1" height="14.7" fill="#26a69a"/>
<rect x="825" y="339.1" width="3" height="5.8" fill="#26a69a"/>
<rect x="830" y="332.1" width="1" height="14.7" fill="#ef5350"/>
<rect x="829" y="339.1" width="3" height="3.8" fill="#ef5350"/>
<rect x="835" y="338.1" width="1" height="18.7" fill="#ef5350"/>
<rect x="834" y="342.0" width="3" height="4.8" fill="#ef5350"/>
<rect x="839" y="338.1" width="1" height="12.7" fill="#26a69a"/>
<rect x="838" y="338.1" width="3" height="8.7" fill="#26a69a"/>
<rect x="844" y="334.9" width="1" height="14.1" fill="#26a69a"/>
<rect x="843" y="337.9" width="3" height="1.0" fill="#26a69a"/>
<rect x="848" y="327.1" width="1" height="14.5" fill="#26a69a"/>
<rect x="847" y="327.9" width="3" height="10.7" fill="#26a69a"/>
<rect x="853" y="325.0" width="1" height="10.9" fill="#ef5350"/>
<rect x="852" y="327.9" width="3" height="1.0" fill="#ef5350"/>
<rect x="858" y="280.0" width="1" height="49.0" fill="#26a69a"/>
<rect x="857" y="282.0" width="3" height="47.0" fill="#26a69a"/>
<rect x="862" y="249.1" width="1" height="32.9" fill="#26a69a"/>
<rect x="861" y="253.2" width="3" height="28.8" fill="#26a69a"/>
<rect x="867" y="252.2" width="1" height="68.2" fill="#ef5350"/>
<rect x="866" y="252.8" width="3" height="19.9" fill="#ef5350"/>
<rect x="871" y="257.1" width="1" height="20.5" fill="#26a69a"/>
<rect x="870" y="264.3" width="3" height="9.2" fill="#26a69a"/>
<rect x="876" y="217.0" width="1" height="50.6" fill="#26a69a"/>
<rect x="875" y="223.0" width="3" height="41.6" fill="#26a69a"/>
<rect x="880" y="219.0" width="1" height="26.7" fill="#ef5350"/>
<rect x="879" y="223.0" width="3" height="1.5" fill="#ef5350"/>
<rect x="885" y="221.1" width="1" height="39.5" fill="#ef5350"/>
<rect x="884" y="224.0" width="3" height="19.7" fill="#ef5350"/>
<rect x="890" y="236.0" width="1" height="35.6" fill="#ef5350"/>
<rect x="889" y="243.2" width="3" height="17.4" fill="#ef5350"/>
<rect x="894" y="237.0" width="1" height="24.8" fill="#26a69a"/>
<rect x="893" y="254.4" width="3" height="6.5" fill="#26a69a"/>
<rect x="899" y="242.0" width="1" height="25.7" fill="#26a69a"/>
<rect x="898" y="242.0" width="3" height="12.7" fill="#26a69a"/>
<rect x="903" y="241.0" width="1" height="43.4" fill="#ef5350"/>
<rect x="902" y="242.0" width="3" height="33.8" fill="#ef5350"/>
<rect x="908" y="264.3" width="1" height="118.2" fill="#ef5350"/>
<rect x="907" y="275.1" width="3" height="31.0" fill="#ef5350"/>
<rect x="913" y="272.0" width="1" height="40.6" fill="#26a69a"/>
<rect x="912" y="282.6" width="3" height="23.4" fill="#26a69a"/>
<rect x="917" y="279.2" width="1" height="31.3" fill="#ef5350"/>
<rect x="916" y="283.2" width="3" height="2.2" fill="#ef5350"/>
<rect x="922" y="276.4" width="1" height="27.9" fill="#26a69a"/>
<rect x="921" y="277.0" width="3" height="8.7" fill="#26a69a"/>
<rect x="926" y="258.1" width="1" height="40.0" fill="#ef5350"/>
<rect x="925" y="277.0" width="3" height="19.9" fill="#ef5350"/>
<rect x="931" y="285.0" width="1" height="42.5" fill="#ef5350"/>
<rect x="930" y="296.2" width="3" height="8.1" fill="#ef5350"/>
<rect x="935" y="282.0" width="1" height="22.6" fill="#26a69a"/>
<rect x="934" y="282.6" width="3" height="22.0" fill="#26a69a"/>
<rect x="940" y="268.3" width="1" height="29.2" fill="#26a69a"/>
<rect x="939" y="273.9" width="3" height="8.7" fill="#26a69a"/>
<rect x="945" y="227.1" width="1" height="53.6" fill="#26a69a"/>
<rect x="944" y="237.9" width="3" height="37.2" fill="#26a69a"/>
<rect x="949" y="223.2" width="1" height="23.3" fill="#26a69a"/>
<rect x="948" y="232.9" width="3" height="5.8" fill="#26a69a"/>
<rect x="954" y="229.2" width="1" height="19.5" fill="#26a69a"/>
<rect x="953" y="229.8" width="3" height="4.0" fill="#26a69a"/>
<rect x="958" y="195.1" width="1" height="35.6" fill="#26a69a"/>
<rect x="957" y="217.0" width="3" height="13.7" fill="#26a69a"/>
<rect x="963" y="205.0" width="1" height="35.7" fill="#26a69a"/>
<rect x="962" y="212.0" width="3" height="5.4" fill="#26a69a"/>
<rect x="967" y="209.3" width="1" height="21.5" fill="#ef5350"/>
<rect x="966" y="212.1" width="3" height="8.4" fill="#ef5350"/>
<rect x="972" y="195.8" width="1" height="28.8" fill="#26a69a"/>
<rect x="971" y="213.9" width="3" height="6.6" fill="#26a69a"/>
<rect x="977" y="173.2" width="1" height="54.5" fill="#26a69a"/>
<rect x="976" y="176.5" width="3" height="38.1" fill="#26a69a"/>
<rect x="981" y="157.1" width="1" height="25.3" fill="#26a69a"/>
<rect x="980" y="161.9" width="3" height="14.8" fill="#26a69a"/>
<rect x="986" y="157.1" width="1" height="20.5" fill="#ef5350"/>
<rect x="985" y="161.9" width="3" height="12.9" fill="#ef5350"/>
<rect x="990" y="154.5" width="1" height="31.9" fill="#26a69a"/>
<rect x="989" y="156.1" width="3" height="18.7" fill="#26a69a"/>
<rect x="995" y="134.8" width="1" height="26.6" fill="#26a69a"/>
<rect x="994" y="135.2" width="3" height="21.9" fill="#26a69a"/>
<rect x="999" y="109.0" width="1" height="80.6" fill="#26a69a"/>
<rect x="998" y="133.2" width="3" height="2.4" fill="#26a69a"/>
<rect x="1004" y="117.1" width="1" height="31.5" fill="#26a69a"/>
<rect x="1003" y="126.0" width="3" height="8.1" fill="#26a69a"/>
<rect x="1009" y="121.1" width="1" height="60.5" fill="#ef5350"/>
<rect x="1008" y="126.0" width="3" height="20.5" fill="#ef5350"/>
<rect x="1013" y="133.2" width="1" height="29.4" fill="#26a69a"/>
<rect x="1012" y="136.0" width="3" height="10.5" fill="#26a69a"/>
<rect x="1018" y="89.7" width="1" height="60.0" fill="#26a69a"/>
<rect x="1017" y="92.9" width="3" height="43.5" fill="#26a69a"/>
<rect x="1022" y="81.9" width="1" height="37.6" fill="#ef5350"/>
<rect x="1021" y="93.2" width="3" height="7.4" fill="#ef5350"/>
<rect x="1027" y="86.9" width="1" height="32.6" fill="#ef5350"/>
<rect x="1026" y="100.2" width="3" height="10.5" fill="#ef5350"/>
<rect x="1031" y="99.0" width="1" height="41.5" fill="#26a69a"/>
<rect x="1030" y="105.0" width="3" height="5.6" fill="#26a69a"/>
<rect x="1036" y="99.0" width="1" height="26.5" fill="#ef5350"/>
<rect x="1035" y="105.0" width="3" height="7.3" fill="#ef5350"/>
<rect x="1041" y="107.1" width="1" height="32.6" fill="#ef5350"/>
<rect x="1040" y="111.9" width="3" height="11.6" fill="#ef5350"/>
<rect x="1045" y="94.2" width="1" height="35.5" fill="#26a69a"/>
<rect x="1044" y="105.0" width="3" height="18.5" fill="#26a69a"/>
<rect x="1050" y="92.1" width="1" height="19.7" fill="#ef5350"/>
<rect x="1049" y="105.0" width="3" height="1.6" fill="#ef5350"/>
<rect x="1054" y="99.0" width="1" height="18.5" fill="#26a69a"/>
<rect x="1053" y="103.1" width="3" height="2.7" fill="#26a69a"/>
<rect x="1059" y="101.0" width="1" height="14.5" fill="#ef5350"/>
<rect x="1058" y="103.1" width="3" height="9.2" fill="#ef5350"/>
<rect x="1063" y="91.0" width="1" height="22.1" fill="#26a69a"/>
<rect x="1062" y="108.2" width="3" height="4.8" fill="#26a69a"/>
<rect x="1068" y="96.1" width="1" height="17.4" fill="#26a69a"/>
<rect x="1067" y="96.9" width="3" height="11.8" fill="#26a69a"/>
<rect x="1073" y="96.1" width="1" height="39.5" fill="#ef5350"/>
<rect x="1072" y="96.9" width="3" height="34.7" fill="#ef5350"/>
<rect x="1077" y="114.2" width="1" height="29.5" fill="#26a69a"/>
<rect x="1076" y="121.2" width="3" height="10.4" fill="#26a69a"/>
<rect x="1082" y="120.0" width="1" height="59.7" fill="#ef5350"/>
<rect x="1081" y="122.3" width="3" height="44.5" fill="#ef5350"/>
<rect x="1086" y="134.0" width="1" height="90.6" fill="#26a69a"/>
<rect x="1085" y="150.2" width="3" height="16.6" fill="#26a69a"/>
<rect x="1091" y="148.2" width="1" height="100.7" fill="#ef5350"/>
<rect x="1090" y="150.0" width="3" height="54.6" fill="#ef5350"/>
<rect x="1095" y="193.0" width="1" height="79.7" fill="#ef5350"/>
<rect x="1094" y="205.0" width="3" height="22.8" fill="#ef5350"/>
<rect x="1100" y="186.0" width="1" height="48.7" fill="#ef5350"/>
<rect x="1099" y="227.2" width="3" height="4.6" fill="#ef5350"/>
<rect x="1105" y="211.0" width="1" height="107.6" fill="#ef5350"/>
<rect x="1104" y="231.0" width="3" height="58.9" fill="#ef5350"/>
<rect x="1109" y="242.0" width="1" height="80.5" fill="#26a69a"/>
<rect x="1108" y="271.8" width="3" height="18.1" fill="#26a69a"/>
<rect x="1114" y="198.9" width="1" height="93.8" fill="#26a69a"/>
<rect x="1113" y="204.2" width="3" height="69.4" fill="#26a69a"/>
<rect x="1118" y="201.0" width="1" height="40.8" fill="#ef5350"/>
<rect x="1117" y="204.2" width="3" height="9.4" fill="#ef5350"/>
<rect x="1123" y="180.7" width="1" height="41.8" fill="#26a69a"/>
<rect x="1122" y="184.2" width="3" height="29.5" fill="#26a69a"/>
<rect x="1127" y="181.8" width="1" height="36.9" fill="#ef5350"/>
<rect x="1126" y="182.4" width="3" height="23.0" fill="#ef5350"/>
<rect x="1132" y="198.9" width="1" height="67.9" fill="#ef5350"/>
<rect x="1131" y="205.0" width="3" height="32.7" fill="#ef5350"/>
<rect x="1137" y="203.0" width="1" height="35.2" fill="#26a69a"/>
<rect x="1136" y="220.1" width="3" height="17.9" fill="#26a69a"/>
<rect x="1141" y="213.0" width="1" height="36.8" fill="#ef5350"/>
<rect x="1140" y="220.1" width="3" height="13.4" fill="#ef5350"/>
<rect x="1146" y="226.0" width="1" height="45.5" fill="#ef5350"/>
<rect x="1145" y="233.3" width="3" height="5.2" fill="#ef5350"/>
<rect x="1150" y="209.5" width="1" height="51.4" fill="#26a69a"/>
<rect x="1149" y="214.0" width="3" height="24.5" fill="#26a69a"/>
<rect x="1155" y="208.1" width="1" height="25.4" fill="#ef5350"/>
<rect x="1154" y="214.0" width="3" height="13.0" fill="#ef5350"/>
<rect x="1159" y="211.3" width="1" height="23.4" fill="#26a69a"/>
<rect x="1158" y="220.1" width="3" height="6.8" fill="#26a69a"/>
<rect x="1164" y="188.9" width="1" height="37.7" fill="#26a69a"/>
<rect x="1163" y="193.0" width="3" height="27.7" fill="#26a69a"/>
<rect x="1169" y="155.9" width="1" height="43.6" fill="#26a69a"/>
<rect x="1168" y="165.0" width="3" height="28.6" fill="#26a69a"/>
<rect x="1173" y="149.8" width="1" height="24.2" fill="#ef5350"/>
<rect x="1172" y="165.1" width="3" height="8.0" fill="#ef5350"/>
<rect x="1178" y="141.8" width="1" height="36.9" fill="#26a69a"/>
<rect x="1177" y="149.2" width="3" height="23.6" fill="#26a69a"/>
<rect x="1182" y="138.9" width="1" height="17.7" fill="#26a69a"/>
<rect x="1181" y="146.0" width="3" height="3.8" fill="#26a69a"/>
<rect x="1187" y="113.0" width="1" height="46.8" fill="#26a69a"/>
<rect x="1186" y="125.0" width="3" height="21.8" fill="#26a69a"/>
<rect x="1191" y="116.8" width="1" height="16.3" fill="#26a69a"/>
<rect x="1190" y="118.6" width="3" height="7.4" fill="#26a69a"/>
<rect x="1196" y="118.6" width="1" height="33.3" fill="#ef5350"/>
<rect x="1195" y="118.6" width="3" height="15.0" fill="#ef5350"/>
<rect x="1201" y="122.1" width="1" height="24.7" fill="#ef5350"/>
<rect x="1200" y="133.0" width="3" height="8.7" fill="#ef5350"/>
<rect x="1205" y="137.1" width="1" height="25.7" fill="#ef5350"/>
<rect x="1204" y="140.9" width="3" height="4.7" fill="#ef5350"/>
<rect x="1210" y="140.0" width="1" height="15.9" fill="#ef5350"/>
<rect x="1209" y="145.1" width="3" height="7.7" fill="#ef5350"/>
<rect x="1214" y="150.0" width="1" height="60.7" fill="#ef5350"/>
<rect x="1213" y="151.9" width="3" height="50.5" fill="#ef5350"/>
<rect x="1219" y="184.2" width="1" height="44.5" fill="#ef5350"/>
<rect x="1218" y="201.9" width="3" height="7.7" fill="#ef5350"/>
<rect x="1223" y="174.7" width="1" height="43.0" fill="#26a69a"/>
<rect x="1222" y="178.0" width="3" height="31.5" fill="#26a69a"/>
<rect x="1228" y="160.0" width="1" height="33.8" fill="#ef5350"/>
<rect x="1227" y="178.0" width="3" height="4.7" fill="#ef5350"/>
<rect x="1233" y="174.2" width="1" height="28.6" fill="#26a69a"/>
<rect x="1232" y="180.9" width="3" height="1.5" fill="#26a69a"/>
<rect x="1237" y="154.9" width="1" height="30.6" fill="#26a69a"/>
<rect x="1236" y="160.0" width="3" height="21.6" fill="#26a69a"/>
<rect x="1242" y="155.9" width="1" height="23.8" fill="#ef5350"/>
<rect x="1241" y="160.0" width="3" height="4.7" fill="#ef5350"/>
<rect x="1246" y="159.1" width="1" height="29.8" fill="#ef5350"/>
<rect x="1245" y="164.1" width="3" height="21.4" fill="#ef5350"/>
<rect x="1251" y="175.9" width="1" height="29.7" fill="#ef5350"/>
<rect x="1250" y="184.8" width="3" height="7.9" fill="#ef5350"/>
<rect x="1255" y="177.7" width="1" height="25.1" fill="#26a69a"/>
<rect x="1254" y="189.1" width="3" height="4.7" fill="#26a69a"/>
<rect x="1260" y="185.1" width="1" height="38.5" fill="#ef5350"/>
<rect x="1259" y="189.1" width="3" height="29.5" fill="#ef5350"/>
<rect x="1265" y="204.2" width="1" height="33.6" fill="#26a69a"/>
<rect x="1264" y="207.2" width="3" height="11.4" fill="#26a69a"/>
<rect x="1269" y="194.2" width="1" height="26.5" fill="#26a69a"/>
<rect x="1268" y="197.7" width="3" height="10.0" fill="#26a69a"/>
<rect x="1274" y="188.9" width="1" height="13.9" fill="#ef5350"/>
<rect x="1273" y="197.7" width="3" height="3.2" fill="#ef5350"/>
<rect x="1278" y="175.9" width="1" height="26.9" fill="#26a69a"/>
<rect x="1277" y="196.2" width="3" height="4.7" fill="#26a69a"/>
<rect x="1283" y="188.9" width="1" height="29.2" fill="#ef5350"/>
<rect x="1282" y="196.0" width="3" height="15.6" fill="#ef5350"/>
<rect x="1287" y="187.9" width="1" height="30.6" fill="#26a69a"/>
<rect x="1286" y="191.2" width="3" height="20.3" fill="#26a69a"/>
<rect x="1292" y="180.0" width="1" height="18.9" fill="#26a69a"/>
<rect x="1291" y="184.2" width="3" height="7.1" fill="#26a69a"/>
<rect x="1297" y="165.1" width="1" height="26.7" fill="#26a69a"/>
<rect x="1296" y="183.9" width="3" height="1.0" fill="#26a69a"/>
<rect x="1301" y="181.2" width="1" height="23.6" fill="#ef5350"/>
<rect x="1300" y="184.2" width="3" height="9.4" fill="#ef5350"/>
<rect x="1306" y="177.1" width="1" height="19.4" fill="#26a69a"/>
<rect x="1305" y="180.0" width="3" height="13.6" fill="#26a69a"/>
<rect x="1310" y="165.9" width="1" height="20.0" fill="#ef5350"/>
<rect x="1309" y="180.0" width="3" height="2.7" fill="#ef5350"/>
<rect x="1315" y="167.1" width="1" height="22.7" fill="#26a69a"/>
<rect x="1314" y="169.1" width="3" height="13.7" fill="#26a69a"/>
<rect x="1320" y="162.0" width="1" height="16.0" fill="#26a69a"/>
<rect x="1319" y="167.1" width="3" height="2.4" fill="#26a69a"/>
<rect x="1324" y="163.2" width="1" height="18.6" fill="#26a69a"/>
<rect x="1323" y="166.3" width="3" height="1.4" fill="#26a69a"/>
<rect x="1329" y="156.1" width="1" height="36.5" fill="#ef5350"/>
<rect x="1328" y="166.3" width="3" height="21.4" fill="#ef5350"/>
<rect x="1333" y="177.1" width="1" height="18.6" fill="#ef5350"/>
<rect x="1332" y="187.1" width="3" height="7.7" fill="#ef5350"/>
<rect x="1338" y="184.2" width="1" height="29.5" fill="#ef5350"/>
<rect x="1337" y="194.2" width="3" height="17.1" fill="#ef5350"/>
<rect x="1342" y="195.0" width="1" height="22.7" fill="#26a69a"/>
<rect x="1341" y="199.1" width="3" height="12.7" fill="#26a69a"/>
<rect x="1347" y="193.8" width="1" height="40.9" fill="#ef5350"/>
<rect x="1346" y="199.1" width="3" height="26.5" fill="#ef5350"/>
<rect x="1352" y="209.2" width="1" height="25.6" fill="#ef5350"/>
<rect x="1351" y="225.1" width="3" height="5.9" fill="#ef5350"/>
<rect x="1356" y="206.2" width="1" height="41.5" fill="#26a69a"/>
<rect x="1355" y="209.2" width="3" height="21.8" fill="#26a69a"/>
<rect x="1361" y="199.1" width="1" height="25.7" fill="#26a69a"/>
<rect x="1360" y="202.9" width="3" height="6.8" fill="#26a69a"/>
<rect x="1365" y="199.7" width="1" height="31.0" fill="#ef5350"/>
<rect x="1364" y="202.9" width="3" height="18.9" fill="#ef5350"/>
<rect x="1370" y="213.0" width="1" height="22.9" fill="#26a69a"/>
<rect x="1369" y="220.9" width="3" height="1.0" fill="#26a69a"/>
<rect x="1374" y="219.8" width="1" height="58.6" fill="#ef5350"/>
<rect x="1373" y="220.9" width="3" height="53.6" fill="#ef5350"/>
<rect x="1379" y="260.0" width="1" height="45.7" fill="#ef5350"/>
<rect x="1378" y="274.6" width="3" height="18.1" fill="#ef5350"/>
<rect x="1384" y="261.0" width="1" height="40.5" fill="#26a69a"/>
<rect x="1383" y="266.9" width="3" height="25.8" fill="#26a69a"/>
<rect x="1388" y="265.1" width="1" height="59.4" fill="#ef5350"/>
<rect x="1387" y="266.9" width="3" height="37.6" fill="#ef5350"/>
<rect x="1393" y="299.2" width="1" height="56.6" fill="#26a69a"/>
<rect x="1392" y="301.3" width="3" height="3.5" fill="#26a69a"/>
<rect x="1397" y="275.9" width="1" height="34.5" fill="#ef5350"/>
<rect x="1396" y="301.3" width="3" height="4.4" fill="#ef5350"/>
<rect x="1402" y="277.4" width="1" height="35.9" fill="#26a69a"/>
<rect x="1401" y="282.9" width="3" height="22.7" fill="#26a69a"/>
<rect x="1406" y="260.0" width="1" height="32.7" fill="#26a69a"/>
<rect x="1405" y="266.1" width="3" height="17.2" fill="#26a69a"/>
<rect x="1411" y="239.4" width="1" height="38.8" fill="#26a69a"/>
<rect x="1410" y="240.6" width="3" height="25.9" fill="#26a69a"/>
<rect x="1416" y="236.6" width="1" height="28.3" fill="#ef5350"/>
<rect x="1415" y="240.6" width="3" height="16.0" fill="#ef5350"/>
<rect x="1420" y="255.9" width="1" height="20.6" fill="#ef5350"/>
<rect x="1419" y="255.9" width="3" height="13.7" fill="#ef5350"/>
<rect x="1425" y="244.5" width="1" height="27.1" fill="#26a69a"/>
<rect x="1424" y="255.9" width="3" height="13.7" fill="#26a69a"/>
<rect x="1429" y="253.1" width="1" height="34.5" fill="#ef5350"/>
<rect x="1428" y="255.9" width="3" height="29.7" fill="#ef5350"/>
<rect x="1434" y="271.0" width="1" height="19.7" fill="#26a69a"/>
<rect x="1433" y="280.1" width="3" height="5.5" fill="#26a69a"/>
<rect x="1438" y="266.2" width="1" height="19.2" fill="#26a69a"/>
<rect x="1437" y="269.3" width="3" height="10.8" fill="#26a69a"/>
<rect x="1443" y="266.2" width="1" height="15.1" fill="#ef5350"/>
<rect x="1442" y="269.3" width="3" height="6.1" fill="#ef5350"/>
<rect x="1448" y="266.9" width="1" height="18.7" fill="#26a69a"/>
<rect x="1447" y="267.3" width="3" height="8.3" fill="#26a69a"/>
<rect x="1452" y="253.0" width="1" height="16.5" fill="#26a69a"/>
<rect x="1451" y="260.1" width="3" height="7.7" fill="#26a69a"/>
<rect x="1457" y="254.8" width="1" height="11.8" fill="#26a69a"/>
<rect x="1456" y="257.7" width="3" height="2.9" fill="#26a69a"/>
<rect x="1461" y="256.3" width="1" height="24.7" fill="#ef5350"/>
<rect x="1460" y="257.7" width="3" height="20.6" fill="#ef5350"/>
<rect x="1466" y="273.1" width="1" height="29.7" fill="#ef5350"/>
<rect x="1465" y="278.0" width="3" height="15.4" fill="#ef5350"/>
<rect x="1470" y="269.5" width="1" height="25.3" fill="#26a69a"/>
<rect x="1469" y="270.9" width="3" height="23.3" fill="#26a69a"/>
<rect x="1475" y="240.1" width="1" height="33.6" fill="#26a69a"/>
<rect x="1474" y="243.0" width="3" height="28.9" fill="#26a69a"/>
<rect x="1480" y="237.9" width="1" height="16.9" fill="#ef5350"/>
<rect x="1479" y="243.0" width="3" height="4.7" fill="#ef5350"/>
<rect x="1484" y="243.0" width="1" height="17.7" fill="#ef5350"/>
<rect x="1483" y="247.1" width="3" height="4.5" fill="#ef5350"/>
<rect x="1489" y="214.1" width="1" height="40.3" fill="#26a69a"/>
<rect x="1488" y="224.2" width="3" height="27.5" fill="#26a69a"/>
<rect x="1493" y="221.0" width="1" height="26.7" fill="#ef5350"/>
<rect x="1492" y="224.2" width="3" height="23.0" fill="#ef5350"/>
<rect x="1498" y="246.0" width="1" height="33.9" fill="#ef5350"/>
<rect x="1497" y="246.0" width="3" height="26.5" fill="#ef5350"/>
<rect x="1502" y="258.9" width="1" height="31.6" fill="#ef5350"/>
<rect x="1501" y="272.1" width="3" height="17.4" fill="#ef5350"/>
<rect x="1507" y="281.0" width="1" height="9.7" fill="#26a69a"/>
<rect x="1506" y="282.9" width="3" height="5.6" fill="#26a69a"/>
</g>
<g shape-rendering="crispEdges">
<line x1="5" y1="281.5" x2="1710" y2="281.5" stroke="#ef5350" stroke-width="1" stroke-dasharray="1 2"/>
<line x1="5" y1="282.5" x2="1710" y2="282.5" stroke="#26a69a" stroke-width="1" stroke-dasharray="1 2"/>
<line x1="5" y1="283.5" x2="1710" y2="283.5" stroke="#2196f3" stroke-width="1" stroke-dasharray="1 2"/>
</g>
<rect x="1710" y="5" width="82" height="801" fill="#ffffff"/>
<rect x="5" y="772" width="1787" height="34" fill="#ffffff"/>
<g shape-rendering="crispEdges" fill="#e0e1e3">
<rect x="1710" y="5" width="1" height="801"/>
<rect x="5" y="772" width="1787" height="1"/>
<rect x="1710" y="16" width="6" height="1"/>
<rect x="1710" y="81" width="6" height="1"/>
<rect x="1710" y="154" width="6" height="1"/>
<rect x="1710" y="193" width="6" height="1"/>
<rect x="1710" y="234" width="6" height="1"/>
<rect x="1710" y="278" width="6" height="1"/>
<rect x="1710" y="324" width="6" height="1"/>
<rect x="1710" y="374" width="6" height="1"/>
<rect x="1710" y="427" width="6" height="1"/>
<rect x="1710" y="470" width="6" height="1"/>
<rect x="1710" y="516" width="6" height="1"/>
<rect x="1710" y="554" width="6" height="1"/>
<rect x="1710" y="595" width="6" height="1"/>
<rect x="1710" y="640" width="6" height="1"/>
<rect x="1710" y="678" width="6" height="1"/>
<rect x="1710" y="719" width="6" height="1"/>
<rect x="1710" y="757" width="6" height="1"/>
<rect x="131" y="772" width="1" height="5"/>
<rect x="323" y="772" width="1" height="5"/>
<rect x="515" y="772" width="1" height="5"/>
<rect x="707" y="772" width="1" height="5"/>
<rect x="816" y="772" width="1" height="5"/>
<rect x="926" y="772" width="1" height="5"/>
<rect x="1091" y="772" width="1" height="5"/>
<rect x="1283" y="772" width="1" height="5"/>
<rect x="1475" y="772" width="1" height="5"/>
<rect x="1667" y="772" width="1" height="5"/>
</g>
<text x="1721.3" y="23.0" font-family="Liberation Sans, sans-serif" font-size="15.4" fill="#2a2e39" textLength="61" lengthAdjust="spacingAndGlyphs">46000.00</text>
<text x="1721.3" y="88.0" font-family="Liberation Sans, sans-serif" font-size="15.4" fill="#2a2e39" textLength="61" lengthAdjust="spacingAndGlyphs">42000.00</text>
<text x="1721.3" y="161.0" font-family="Liberation Sans, sans-serif" font-size="15.4" fill="#2a2e39" textLength="61" lengthAdjust="spacingAndGlyphs">38000.00</text>
<text x="1721.3" y="200.0" font-family="Liberation Sans, sans-serif" font-size="15.4" fill="#2a2e39" textLength="61" lengthAdjust="spacingAndGlyphs">36000.00</text>
<text x="1721.3" y="241.0" font-family="Liberation Sans, sans-serif" font-size="15.4" fill="#2a2e39" textLength="61" lengthAdjust="spacingAndGlyphs">34000.00</text>
<text x="1721.3" y="285.0" font-family="Liberation Sans, sans-serif" font-size="15.4" fill="#2a2e39" textLength="61" lengthAdjust="spacingAndGlyphs">32000.00</text>
<text x="1721.3" y="331.0" font-family="Liberation Sans, sans-serif" font-size="15.4" fill="#2a2e39" textLength="61" lengthAdjust="spacingAndGlyphs">30000.00</text>
<text x="1721.3" y="381.0" font-family="Liberation Sans, sans-serif" font-size="15.4" fill="#2a2e39" textLength="61" lengthAdjust="spacingAndGlyphs">28000.00</text>
<text x="1721.3" y="434.0" font-family="Liberation Sans, sans-serif" font-size="15.4" fill="#2a2e39" textLength="61" lengthAdjust="spacingAndGlyphs">26000.00</text>
<text x="1721.3" y="477.0" font-family="Liberation Sans, sans-serif" font-size="15.4" fill="#2a2e39" textLength="61" lengthAdjust="spacingAndGlyphs">24500.00</text>
<text x="1721.3" y="523.0" font-family="Liberation Sans, sans-serif" font-size="15.4" fill="#2a2e39" textLength="61" lengthAdjust="spacingAndGlyphs">23000.00</text>
<text x="1721.3" y="561.0" font-family="Liberation Sans, sans-serif" font-size="15.4" fill="#2a2e39" textLength="61" lengthAdjust="spacingAndGlyphs">21800.00</text>
<text x="1721.3" y="602.0" font-family="Liberation Sans, sans-serif" font-size="15.4" fill="#2a2e39" textLength="61" lengthAdjust="spacingAndGlyphs">20600.00</text>
<text x="1721.3" y="647.0" font-family="Liberation Sans, sans-serif" font-size="15.4" fill="#2a2e39" textLength="61" lengthAdjust="spacingAndGlyphs">19350.00</text>
<text x="1721.3" y="685.0" font-family="Liberation Sans, sans-serif" font-size="15.4" fill="#2a2e39" textLength="61" lengthAdjust="spacingAndGlyphs">18350.00</text>
<text x="1721.3" y="726.0" font-family="Liberation Sans, sans-serif" font-size="15.4" fill="#2a2e39" textLength="61" lengthAdjust="spacingAndGlyphs">17350.00</text>
<text x="1721.3" y="764.0" font-family="Liberation Sans, sans-serif" font-size="15.4" fill="#2a2e39" textLength="61" lengthAdjust="spacingAndGlyphs">16450.00</text>
<rect x="1710" y="206" width="82" height="21" fill="#ff0000" shape-rendering="crispEdges"/>
<rect x="1710" y="216" width="5" height="1" fill="#ffffff" shape-rendering="crispEdges"/>
<text x="1721.3" y="220.8" font-family="Liberation Sans, sans-serif" font-size="15.8" fill="#ffffff" textLength="60" lengthAdjust="spacingAndGlyphs">34838.71</text>
<rect x="1710" y="312" width="82" height="21" fill="#ff0000" shape-rendering="crispEdges"/>
<rect x="1710" y="322" width="5" height="1" fill="#ffffff" shape-rendering="crispEdges"/>
<text x="1721.3" y="326.8" font-family="Liberation Sans, sans-serif" font-size="15.8" fill="#ffffff" textLength="60" lengthAdjust="spacingAndGlyphs">30096.01</text>
<text x="131.0" y="797" font-family="Liberation Sans, sans-serif" font-size="14.5" font-weight="normal" fill="#2a2e39" text-anchor="middle">7</text>
<text x="322.9" y="797" font-family="Liberation Sans, sans-serif" font-size="14.5" font-weight="normal" fill="#2a2e39" text-anchor="middle">14</text>
<text x="515.2" y="797" font-family="Liberation Sans, sans-serif" font-size="14.5" font-weight="normal" fill="#2a2e39" text-anchor="middle">21</text>
<text x="707.2" y="797" font-family="Liberation Sans, sans-serif" font-size="14.5" font-weight="normal" fill="#2a2e39" text-anchor="middle">28</text>
<text x="816.1" y="797" font-family="Liberation Sans, sans-serif" font-size="14.5" font-weight="bold" fill="#131722" text-anchor="middle">2021</text>
<text x="926.2" y="797" font-family="Liberation Sans, sans-serif" font-size="14.5" font-weight="normal" fill="#2a2e39" text-anchor="middle">5</text>
<text x="1091.3" y="797" font-family="Liberation Sans, sans-serif" font-size="14.5" font-weight="normal" fill="#2a2e39" text-anchor="middle">11</text>
<text x="1283.1" y="797" font-family="Liberation Sans, sans-serif" font-size="14.5" font-weight="normal" fill="#2a2e39" text-anchor="middle">18</text>
<text x="1475.2" y="797" font-family="Liberation Sans, sans-serif" font-size="14.5" font-weight="normal" fill="#2a2e39" text-anchor="middle">25</text>
<text x="1667.2" y="797" font-family="Liberation Sans, sans-serif" font-size="14.5" font-weight="normal" fill="#2a2e39" text-anchor="middle">Feb</text>
<!-- left strip & top toolbar -->
<rect x="0" y="0" width="5" height="806" fill="#e0e3eb" shape-rendering="crispEdges"/>
<g shape-rendering="crispEdges" fill="#e0e3eb">
<rect x="5" y="4" width="1639" height="1"/>
<rect x="130" y="0" width="1" height="4"/><rect x="178" y="0" width="1" height="4"/><rect x="226" y="0" width="1" height="4"/>
<rect x="354" y="0" width="1" height="4"/><rect x="488" y="0" width="1" height="4"/><rect x="623" y="0" width="1" height="4"/>
<rect x="761" y="0" width="1" height="4"/><rect x="857" y="0" width="1" height="4"/><rect x="966" y="0" width="1" height="4"/>
<rect x="1045" y="0" width="1" height="4"/><rect x="1297" y="0" width="1" height="4"/><rect x="1346" y="0" width="1" height="4"/>
<rect x="1497" y="0" width="1" height="4"/><rect x="1546" y="0" width="1" height="4"/><rect x="1594" y="0" width="1" height="4"/>
</g>
<rect x="1644" y="0" width="148" height="4" fill="#2196f3" shape-rendering="crispEdges"/>
<rect x="1744" y="0" width="1" height="4" fill="#ffffff" shape-rendering="crispEdges"/>
<text x="15.9" y="31.8" font-family="Liberation Sans, sans-serif" font-size="19.8" fill="#131722" textLength="62.63" lengthAdjust="spacingAndGlyphs">Bitcoin</text>
<text x="86.9" y="31.8" font-family="Liberation Sans, sans-serif" font-size="19.8" fill="#131722" textLength="6.76" lengthAdjust="spacingAndGlyphs">/</text>
<text x="100.8" y="31.8" font-family="Liberation Sans, sans-serif" font-size="19.8" fill="#131722" textLength="36.84" lengthAdjust="spacingAndGlyphs">U.S.</text>
<text x="144.24" y="31.8" font-family="Liberation Sans, sans-serif" font-size="19.8" fill="#131722" textLength="52.52" lengthAdjust="spacingAndGlyphs">Dollar</text>
<text x="213.1" y="31.8" font-family="Liberation Sans, sans-serif" font-size="19.8" fill="#131722" textLength="21.25" lengthAdjust="spacingAndGlyphs">4h</text>
<text x="248.31" y="31.8" font-family="Liberation Sans, sans-serif" font-size="19.8" fill="#131722" textLength="87.77" lengthAdjust="spacingAndGlyphs">COINBASE</text>
<circle cx="204.7" cy="25.4" r="1.4" fill="#c3c5cb"/><circle cx="241.1" cy="25.4" r="1.4" fill="#c3c5cb"/>
<circle cx="366" cy="24.9" r="10.7" fill="#e0f1f5"/><circle cx="366" cy="24.9" r="5" fill="#089a89"/>
<text x="396.71" y="31.9" font-family="Liberation Sans, sans-serif" font-size="16.2" fill="#787b86" textLength="10.18" lengthAdjust="spacingAndGlyphs">O</text>
<text x="408.52" y="31.9" font-family="Liberation Sans, sans-serif" font-size="16.2" fill="#26a69a" textLength="66.37" lengthAdjust="spacingAndGlyphs">31538.99</text>
<text x="481.94" y="31.9" font-family="Liberation Sans, sans-serif" font-size="16.2" fill="#787b86" textLength="10.14" lengthAdjust="spacingAndGlyphs">H</text>
<text x="493.62" y="31.9" font-family="Liberation Sans, sans-serif" font-size="16.2" fill="#26a69a" textLength="66.06" lengthAdjust="spacingAndGlyphs">31865.79</text>
<text x="567.34" y="31.9" font-family="Liberation Sans, sans-serif" font-size="16.2" fill="#787b86" textLength="7.82" lengthAdjust="spacingAndGlyphs">L</text>
<text x="576.63" y="31.9" font-family="Liberation Sans, sans-serif" font-size="16.2" fill="#26a69a" textLength="65.66" lengthAdjust="spacingAndGlyphs">31437.97</text>
<text x="649.72" y="31.9" font-family="Liberation Sans, sans-serif" font-size="16.2" fill="#787b86" textLength="10.37" lengthAdjust="spacingAndGlyphs">C</text>
<text x="661.44" y="31.9" font-family="Liberation Sans, sans-serif" font-size="16.2" fill="#26a69a" textLength="65.04" lengthAdjust="spacingAndGlyphs">31784.63</text>
<text x="16.08" y="59.7" font-family="Liberation Sans, sans-serif" font-size="16.2" fill="#131722" textLength="29.36" lengthAdjust="spacingAndGlyphs">EMA</text>
<text x="49.77" y="59.7" font-family="Liberation Sans, sans-serif" font-size="16.2" fill="#50535e" textLength="18.52" lengthAdjust="spacingAndGlyphs">25</text>
<text x="72.08" y="59.7" font-family="Liberation Sans, sans-serif" font-size="16.2" fill="#50535e" textLength="38.56" lengthAdjust="spacingAndGlyphs">close</text>
<text x="113.29" y="59.7" font-family="Liberation Sans, sans-serif" font-size="16.2" fill="#50535e" textLength="9.92" lengthAdjust="spacingAndGlyphs">0</text>
<text x="132.52" y="59.7" font-family="Liberation Sans, sans-serif" font-size="16.2" fill="#2196f3" textLength="66.06" lengthAdjust="spacingAndGlyphs">32809.66</text>
<text x="16.08" y="89.9" font-family="Liberation Sans, sans-serif" font-size="16.2" fill="#131722" textLength="29.36" lengthAdjust="spacingAndGlyphs">EMA</text>
<text x="49.77" y="89.9" font-family="Liberation Sans, sans-serif" font-size="16.2" fill="#50535e" textLength="18.52" lengthAdjust="spacingAndGlyphs">15</text>
<text x="72.08" y="89.9" font-family="Liberation Sans, sans-serif" font-size="16.2" fill="#50535e" textLength="38.56" lengthAdjust="spacingAndGlyphs">close</text>
<text x="113.29" y="89.9" font-family="Liberation Sans, sans-serif" font-size="16.2" fill="#50535e" textLength="9.92" lengthAdjust="spacingAndGlyphs">0</text>
<text x="132.52" y="89.9" font-family="Liberation Sans, sans-serif" font-size="16.2" fill="#26c6da" textLength="66.06" lengthAdjust="spacingAndGlyphs">32607.76</text>
<rect x="16.5" y="102.5" width="36" height="26" rx="3" fill="#ffffff" stroke="#d1d4dc" stroke-width="1"/>
<polyline points="30,118 34.5,114 39.4,117.8" fill="none" stroke="#131722" stroke-width="1.6"/>
<!-- USD box -->
<rect x="1732.5" y="12.5" width="38" height="24" rx="4" fill="#ffffff" stroke="#d6d8de" stroke-width="1"/>
<text x="1739" y="29.8" font-family="Liberation Sans, sans-serif" font-size="15.8" fill="#2a2e39" textLength="25.5" lengthAdjust="spacingAndGlyphs">USD</text>
<!-- logo -->
<circle cx="33.9" cy="743" r="20.5" fill="#ffffff" stroke="#e0e1e3" stroke-width="1"/>
<path d="M21,749.5 L21,745.5 C21,742.5 22.5,740.5 25.5,740 C27,736.5 29.5,734.8 32.5,734.8 C35.5,734.8 37.5,736.5 38.5,738.5 C41.5,738.8 43.5,740 45.3,742.3 C47.2,744.3 48,746 48,748 L48,749.5 C48,750.2 47.5,750.5 46.8,750.5 L22.2,750.5 C21.5,750.5 21,750.2 21,749.5 Z" fill="#2196f3"/>
<polyline points="20.5,746.8 30.6,739.6 37.2,746.8 45,739.8" fill="none" stroke="#ffffff" stroke-width="1.8"/>
<!-- gear -->
<g transform="translate(1751.4,790.3)" fill="none" stroke="#131722" stroke-width="1.3">
<circle r="5.9"/>
<line x1="6.00" y1="0.00" x2="9.20" y2="0.00"/>
<line x1="4.24" y1="4.24" x2="6.08" y2="6.08"/>
<line x1="0.00" y1="6.00" x2="0.00" y2="9.20"/>
<line x1="-4.24" y1="4.24" x2="-6.08" y2="6.08"/>
<line x1="-6.00" y1="0.00" x2="-9.20" y2="0.00"/>
<line x1="-4.24" y1="-4.24" x2="-6.08" y2="-6.08"/>
<line x1="-0.00" y1="-6.00" x2="-0.00" y2="-9.20"/>
<line x1="4.24" y1="-4.24" x2="6.08" y2="-6.08"/>
</g>
</svg>
</div>
</body></html>
